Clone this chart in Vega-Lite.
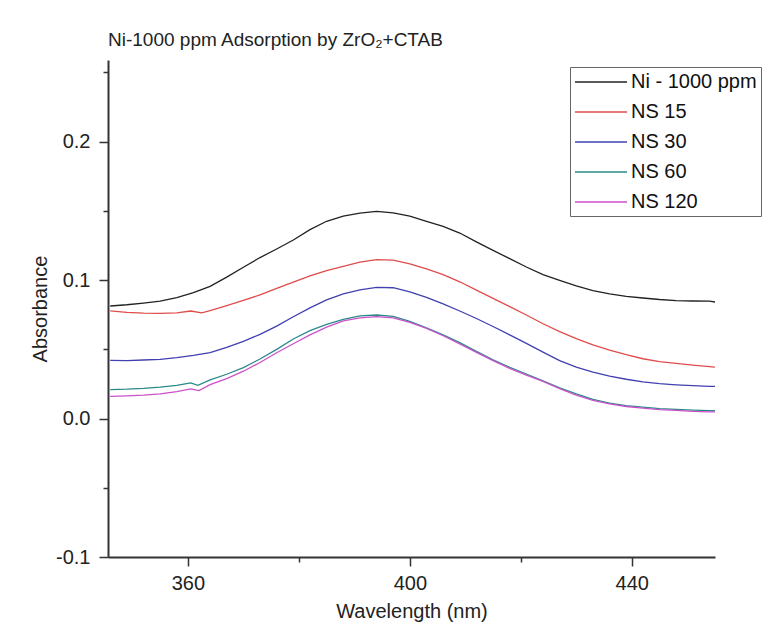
{
  "$schema": "https://vega.github.io/schema/vega-lite/v6.json",
  "width": 607,
  "height": 497,
  "autosize": {"type": "none"},
  "padding": {"left": 108, "top": 60, "right": 62, "bottom": 70},
  "background": "white",
  "title": {
    "text": "Ni-1000 ppm Adsorption by ZrO₂+CTAB",
    "anchor": "start",
    "frame": "group",
    "fontSize": 19,
    "fontWeight": "normal",
    "font": "Liberation Sans",
    "color": "#222222",
    "offset": 10
  },
  "config": {
    "view": {"stroke": null},
    "axis": {
      "domainColor": "#333333",
      "domainWidth": 2,
      "tickColor": "#333333",
      "tickWidth": 1.5,
      "grid": false,
      "labelFont": "Liberation Sans",
      "labelFontSize": 20,
      "labelColor": "#222222",
      "titleFont": "Liberation Sans",
      "titleFontSize": 20,
      "titleFontWeight": "normal",
      "titleColor": "#222222"
    },
    "legend": {
      "orient": "none",
      "legendX": 462,
      "legendY": 7,
      "strokeColor": "#666666",
      "strokeWidth": 1,
      "fillColor": "white",
      "padding": 4,
      "symbolType": "M-2.6,0H2.6",
      "symbolSize": 400,
      "symbolOffset": 16,
      "symbolStrokeWidth": 1.3,
      "labelFont": "Liberation Sans",
      "labelFontSize": 20,
      "labelColor": "#111111",
      "labelOffset": 19,
      "rowPadding": 9
    }
  },
  "data": {
    "values": [
      {"s":"Ni - 1000 ppm","w":346,"a":0.0813},{"s":"Ni - 1000 ppm","w":349,"a":0.0822},{"s":"Ni - 1000 ppm","w":352,"a":0.0834},{"s":"Ni - 1000 ppm","w":355,"a":0.0848},{"s":"Ni - 1000 ppm","w":358,"a":0.0874},{"s":"Ni - 1000 ppm","w":361,"a":0.0910},{"s":"Ni - 1000 ppm","w":364,"a":0.0955},{"s":"Ni - 1000 ppm","w":367,"a":0.1022},{"s":"Ni - 1000 ppm","w":370,"a":0.1093},{"s":"Ni - 1000 ppm","w":373,"a":0.1163},{"s":"Ni - 1000 ppm","w":376,"a":0.1225},{"s":"Ni - 1000 ppm","w":379,"a":0.1290},{"s":"Ni - 1000 ppm","w":382,"a":0.1365},{"s":"Ni - 1000 ppm","w":385,"a":0.1425},{"s":"Ni - 1000 ppm","w":388,"a":0.1462},{"s":"Ni - 1000 ppm","w":391,"a":0.1484},{"s":"Ni - 1000 ppm","w":394,"a":0.1496},{"s":"Ni - 1000 ppm","w":397,"a":0.1486},{"s":"Ni - 1000 ppm","w":400,"a":0.1462},{"s":"Ni - 1000 ppm","w":403,"a":0.1425},{"s":"Ni - 1000 ppm","w":406,"a":0.1388},{"s":"Ni - 1000 ppm","w":409,"a":0.1340},{"s":"Ni - 1000 ppm","w":412,"a":0.1276},{"s":"Ni - 1000 ppm","w":415,"a":0.1215},{"s":"Ni - 1000 ppm","w":418,"a":0.1155},{"s":"Ni - 1000 ppm","w":421,"a":0.1095},{"s":"Ni - 1000 ppm","w":424,"a":0.1040},{"s":"Ni - 1000 ppm","w":427,"a":0.0998},{"s":"Ni - 1000 ppm","w":430,"a":0.0958},{"s":"Ni - 1000 ppm","w":433,"a":0.0924},{"s":"Ni - 1000 ppm","w":436,"a":0.0900},{"s":"Ni - 1000 ppm","w":439,"a":0.0883},{"s":"Ni - 1000 ppm","w":442,"a":0.0871},{"s":"Ni - 1000 ppm","w":445,"a":0.0860},{"s":"Ni - 1000 ppm","w":448,"a":0.0852},{"s":"Ni - 1000 ppm","w":451,"a":0.0849},{"s":"Ni - 1000 ppm","w":454,"a":0.0848},{"s":"Ni - 1000 ppm","w":455,"a":0.0842},
      {"s":"NS 15","w":346,"a":0.0778},{"s":"NS 15","w":349,"a":0.0767},{"s":"NS 15","w":352,"a":0.0762},{"s":"NS 15","w":355,"a":0.0760},{"s":"NS 15","w":358,"a":0.0763},{"s":"NS 15","w":360.5,"a":0.0777},{"s":"NS 15","w":362.5,"a":0.0764},{"s":"NS 15","w":364,"a":0.0779},{"s":"NS 15","w":367,"a":0.0815},{"s":"NS 15","w":370,"a":0.0853},{"s":"NS 15","w":373,"a":0.0893},{"s":"NS 15","w":376,"a":0.0940},{"s":"NS 15","w":379,"a":0.0985},{"s":"NS 15","w":382,"a":0.1030},{"s":"NS 15","w":385,"a":0.1068},{"s":"NS 15","w":388,"a":0.1100},{"s":"NS 15","w":391,"a":0.1130},{"s":"NS 15","w":394,"a":0.1148},{"s":"NS 15","w":397,"a":0.1145},{"s":"NS 15","w":400,"a":0.1118},{"s":"NS 15","w":403,"a":0.1082},{"s":"NS 15","w":406,"a":0.1040},{"s":"NS 15","w":409,"a":0.0988},{"s":"NS 15","w":412,"a":0.0928},{"s":"NS 15","w":415,"a":0.0868},{"s":"NS 15","w":418,"a":0.0808},{"s":"NS 15","w":421,"a":0.0748},{"s":"NS 15","w":424,"a":0.0685},{"s":"NS 15","w":427,"a":0.0628},{"s":"NS 15","w":430,"a":0.0577},{"s":"NS 15","w":433,"a":0.0533},{"s":"NS 15","w":436,"a":0.0495},{"s":"NS 15","w":439,"a":0.0461},{"s":"NS 15","w":442,"a":0.0432},{"s":"NS 15","w":445,"a":0.0412},{"s":"NS 15","w":448,"a":0.0398},{"s":"NS 15","w":451,"a":0.0386},{"s":"NS 15","w":454,"a":0.0375},{"s":"NS 15","w":455,"a":0.0372},
      {"s":"NS 30","w":346,"a":0.0420},{"s":"NS 30","w":349,"a":0.0419},{"s":"NS 30","w":352,"a":0.0423},{"s":"NS 30","w":355,"a":0.0428},{"s":"NS 30","w":358,"a":0.0440},{"s":"NS 30","w":361,"a":0.0456},{"s":"NS 30","w":364,"a":0.0477},{"s":"NS 30","w":367,"a":0.0515},{"s":"NS 30","w":370,"a":0.0558},{"s":"NS 30","w":373,"a":0.0608},{"s":"NS 30","w":376,"a":0.0668},{"s":"NS 30","w":379,"a":0.0735},{"s":"NS 30","w":382,"a":0.0800},{"s":"NS 30","w":385,"a":0.0857},{"s":"NS 30","w":388,"a":0.0900},{"s":"NS 30","w":391,"a":0.0930},{"s":"NS 30","w":394,"a":0.0947},{"s":"NS 30","w":397,"a":0.0945},{"s":"NS 30","w":400,"a":0.0915},{"s":"NS 30","w":403,"a":0.0875},{"s":"NS 30","w":406,"a":0.0828},{"s":"NS 30","w":409,"a":0.0777},{"s":"NS 30","w":412,"a":0.0723},{"s":"NS 30","w":415,"a":0.0665},{"s":"NS 30","w":418,"a":0.0605},{"s":"NS 30","w":421,"a":0.0543},{"s":"NS 30","w":424,"a":0.0480},{"s":"NS 30","w":427,"a":0.0418},{"s":"NS 30","w":430,"a":0.0372},{"s":"NS 30","w":433,"a":0.0336},{"s":"NS 30","w":436,"a":0.0307},{"s":"NS 30","w":439,"a":0.0284},{"s":"NS 30","w":442,"a":0.0265},{"s":"NS 30","w":445,"a":0.0252},{"s":"NS 30","w":448,"a":0.0244},{"s":"NS 30","w":451,"a":0.0238},{"s":"NS 30","w":454,"a":0.0233},{"s":"NS 30","w":455,"a":0.0232},
      {"s":"NS 60","w":346,"a":0.0209},{"s":"NS 60","w":349,"a":0.0212},{"s":"NS 60","w":352,"a":0.0218},{"s":"NS 60","w":355,"a":0.0227},{"s":"NS 60","w":358,"a":0.0240},{"s":"NS 60","w":360.5,"a":0.0257},{"s":"NS 60","w":361.8,"a":0.0240},{"s":"NS 60","w":364,"a":0.0280},{"s":"NS 60","w":367,"a":0.0320},{"s":"NS 60","w":370,"a":0.0368},{"s":"NS 60","w":373,"a":0.0430},{"s":"NS 60","w":376,"a":0.0500},{"s":"NS 60","w":379,"a":0.0575},{"s":"NS 60","w":382,"a":0.0635},{"s":"NS 60","w":385,"a":0.0680},{"s":"NS 60","w":388,"a":0.0717},{"s":"NS 60","w":391,"a":0.0741},{"s":"NS 60","w":394,"a":0.0748},{"s":"NS 60","w":397,"a":0.0738},{"s":"NS 60","w":400,"a":0.0702},{"s":"NS 60","w":403,"a":0.0656},{"s":"NS 60","w":406,"a":0.0605},{"s":"NS 60","w":409,"a":0.0549},{"s":"NS 60","w":412,"a":0.0485},{"s":"NS 60","w":415,"a":0.0424},{"s":"NS 60","w":418,"a":0.0370},{"s":"NS 60","w":421,"a":0.0322},{"s":"NS 60","w":424,"a":0.0272},{"s":"NS 60","w":427,"a":0.0222},{"s":"NS 60","w":430,"a":0.0178},{"s":"NS 60","w":433,"a":0.0138},{"s":"NS 60","w":436,"a":0.0112},{"s":"NS 60","w":439,"a":0.0093},{"s":"NS 60","w":442,"a":0.0082},{"s":"NS 60","w":445,"a":0.0072},{"s":"NS 60","w":448,"a":0.0066},{"s":"NS 60","w":451,"a":0.0061},{"s":"NS 60","w":454,"a":0.0058},{"s":"NS 60","w":455,"a":0.0058},
      {"s":"NS 120","w":346,"a":0.0160},{"s":"NS 120","w":349,"a":0.0164},{"s":"NS 120","w":352,"a":0.0170},{"s":"NS 120","w":355,"a":0.0179},{"s":"NS 120","w":358,"a":0.0195},{"s":"NS 120","w":360.5,"a":0.0214},{"s":"NS 120","w":362,"a":0.0202},{"s":"NS 120","w":364,"a":0.0245},{"s":"NS 120","w":367,"a":0.0288},{"s":"NS 120","w":370,"a":0.0342},{"s":"NS 120","w":373,"a":0.0405},{"s":"NS 120","w":376,"a":0.0475},{"s":"NS 120","w":379,"a":0.0540},{"s":"NS 120","w":382,"a":0.0605},{"s":"NS 120","w":385,"a":0.0660},{"s":"NS 120","w":388,"a":0.0705},{"s":"NS 120","w":391,"a":0.0728},{"s":"NS 120","w":394,"a":0.0736},{"s":"NS 120","w":397,"a":0.0728},{"s":"NS 120","w":400,"a":0.0695},{"s":"NS 120","w":403,"a":0.0652},{"s":"NS 120","w":406,"a":0.0598},{"s":"NS 120","w":409,"a":0.0540},{"s":"NS 120","w":412,"a":0.0478},{"s":"NS 120","w":415,"a":0.0418},{"s":"NS 120","w":418,"a":0.0362},{"s":"NS 120","w":421,"a":0.0314},{"s":"NS 120","w":424,"a":0.0268},{"s":"NS 120","w":427,"a":0.0216},{"s":"NS 120","w":430,"a":0.0170},{"s":"NS 120","w":433,"a":0.0132},{"s":"NS 120","w":436,"a":0.0106},{"s":"NS 120","w":439,"a":0.0087},{"s":"NS 120","w":442,"a":0.0075},{"s":"NS 120","w":445,"a":0.0065},{"s":"NS 120","w":448,"a":0.0059},{"s":"NS 120","w":451,"a":0.0052},{"s":"NS 120","w":454,"a":0.0048},{"s":"NS 120","w":455,"a":0.0048}
    ]
  },
  "mark": {"type": "line", "strokeWidth": 1.3, "clip": true},
  "encoding": {
    "x": {
      "field": "w",
      "type": "quantitative",
      "title": "Wavelength (nm)",
      "scale": {"domain": [345.6, 455], "nice": false, "zero": false},
      "axis": {
        "values": [360, 380, 400, 420, 440],
        "labelExpr": "datum.value % 40 == 0 ? datum.label : ''",
        "tickSize": {"condition": {"test": "datum.value % 40 == 0", "value": 9}, "value": 5},
        "labelPadding": 7,
        "titlePadding": 8
      }
    },
    "y": {
      "field": "a",
      "type": "quantitative",
      "title": "Absorbance",
      "scale": {"domain": [-0.1, 0.259], "nice": false, "zero": false},
      "axis": {
        "values": [-0.1, -0.05, 0, 0.05, 0.1, 0.15, 0.2, 0.25],
        "labelExpr": "abs(datum.value * 10 - round(datum.value * 10)) < 0.001 ? (datum.value < -0.001 ? '-' + format(-datum.value, '.1f') : format(abs(datum.value), '.1f')) : ''",
        "tickSize": {"condition": {"test": "abs(datum.value * 10 - round(datum.value * 10)) < 0.001", "value": 9}, "value": 5},
        "labelPadding": 9,
        "titlePadding": 5
      }
    },
    "color": {
      "field": "s",
      "type": "nominal",
      "title": null,
      "scale": {
        "domain": ["Ni - 1000 ppm", "NS 15", "NS 30", "NS 60", "NS 120"],
        "range": ["#222222", "#e04c4c", "#4040b0", "#2a8a8a", "#cc50cc"]
      }
    }
  }
}
